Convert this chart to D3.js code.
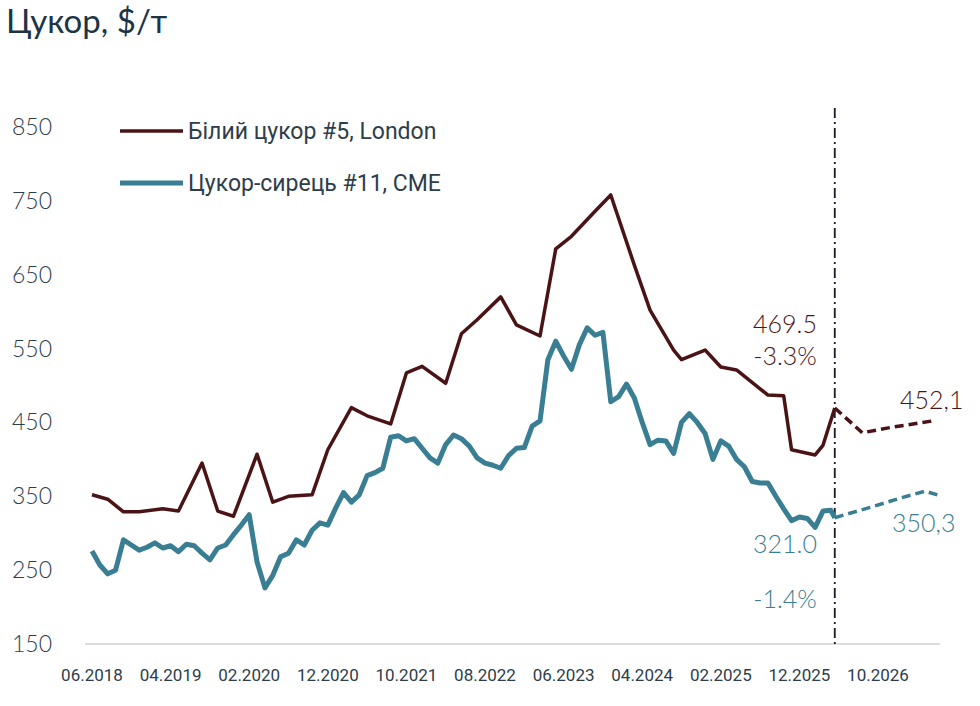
<!DOCTYPE html>
<html><head><meta charset="utf-8">
<script src="https://cdn.jsdelivr.net/npm/d3@7"></script>
<style>body{margin:0;background:#fff}</style>
</head><body>
<script>
// month index from 06.2018
const xLabels = ["06.2018","04.2019","02.2020","12.2020","10.2021","08.2022","06.2023","04.2024","02.2025","12.2025","10.2026"];
const yTicks = [150,250,350,450,550,650,750,850];

const whiteMonths = [0,2,4,6,9,11,14,16,18,21,23,25,28,30,33,35,38,40,42,45,47,49,52,54,57,59,61,64,66,69,71,74,75,78,80,82,86,88,89,92,93,94.5];
const whiteVals   = [352,346,329,329,333,330,395,330,323,407,342,350,352,413,470,459,448,517,526,503,570,589,620,582,567,685,702,736,758,663,602,548,535,548,525,521,487,486,413,406,419,469.5];
const whiteFcM = [94.5,98,101.5,107];
const whiteFcV = [469.5,436,443,452.1];

const rawVals = [276,257,245,250,291,284,277,281,287,280,283,275,285,283,273,264,280,284,298,311,325,261,226,243,268,273,291,284,304,314,311,334,355,342,352,378,382,388,430,432,425,428,415,402,395,420,433,428,418,402,395,392,388,405,415,416,445,452,535,560,540,522,555,578,568,572,478,485,502,483,450,420,426,425,408,450,462,450,435,400,425,418,400,390,370,368,368,350,333,317,322,320,308,330,331];
const rawMonths = rawVals.map((v,i)=>i);
rawMonths.push(94.5); rawVals.push(321);
const rawFcM = [94.5,99,103,106,108];
const rawFcV = [321,335,348,357,350.3];

const RED="#4a1416", BLUE="#3a7e93", TXT="#2d3d4a";
const svg = d3.select("body").append("svg").attr("width",980).attr("height",706);
const x = d3.scaleLinear().domain([0,100]).range([92,878]);
const y = d3.scaleLinear().domain([150,850]).range([644,127]);

svg.append("text").attr("x",6).attr("y",33).attr("font-family","Lato").attr("font-size",33)
  .attr("fill","#1c3446").text("Цукор, $/т");

svg.selectAll(".yt").data(yTicks).enter().append("text")
  .attr("x",12).attr("y",d=>y(d)+8).attr("font-family","Lato").attr("font-weight",300).attr("font-size",23)
  .attr("fill",TXT).text(d=>d);

svg.append("line").attr("x1",85).attr("x2",940).attr("y1",644).attr("y2",644).attr("stroke","#bbb");
svg.selectAll(".xt").data(xLabels).enter().append("text")
  .attr("x",(d,i)=>x(i*10)).attr("y",681).attr("text-anchor","middle")
  .attr("font-family","Roboto, sans-serif").attr("font-size",17)
  .attr("fill",TXT).text(d=>d);

svg.append("line").attr("x1",x(94.5)).attr("x2",x(94.5)).attr("y1",108).attr("y2",644)
  .attr("stroke","#1a1a2a").attr("stroke-width",1.8).attr("stroke-dasharray","10,4,2,4");

const line = d3.line().x(d=>x(d[0])).y(d=>y(d[1]));
function draw(ms,vs,c,w,dash){
  svg.append("path").attr("d",line(ms.map((m,i)=>[m,vs[i]]))).attr("fill","none")
    .attr("stroke",c).attr("stroke-width",w).attr("stroke-linejoin","round")
    .attr("stroke-dasharray",dash?"9,5":null);
}
draw(whiteMonths,whiteVals,RED,3.5,false);
draw(whiteFcM,whiteFcV,RED,3.5,true);
draw(rawMonths,rawVals,BLUE,5,false);
draw(rawFcM,rawFcV,BLUE,3.5,true);

const leg=[["Білий цукор #5, London",RED,131,3.5],["Цукор-сирець #11, CME",BLUE,183,5]];
leg.forEach(l=>{
  svg.append("line").attr("x1",120).attr("x2",183).attr("y1",l[2]).attr("y2",l[2]).attr("stroke",l[1]).attr("stroke-width",l[3]);
  svg.append("text").attr("x",188).attr("y",l[2]+8).attr("font-family","Roboto, sans-serif")
    .attr("font-size",23).attr("fill",TXT).text(l[0]);
});

const notes=[["469.5",785,333,RED,"middle"],["-3.3%",785,365,RED,"middle"],["452,1",900,409,RED,"start"],
  ["321.0",785,553,BLUE,"middle"],["-1.4%",785,608,BLUE,"middle"],["350,3",892,532,BLUE,"start"]];
svg.selectAll(".nt").data(notes).enter().append("text")
  .attr("x",d=>d[1]).attr("y",d=>d[2]).attr("text-anchor",d=>d[4]).attr("fill",d=>d[3])
  .attr("font-family","Lato").attr("font-weight",300).attr("font-size",25).text(d=>d[0]);
</script>
</body></html>
